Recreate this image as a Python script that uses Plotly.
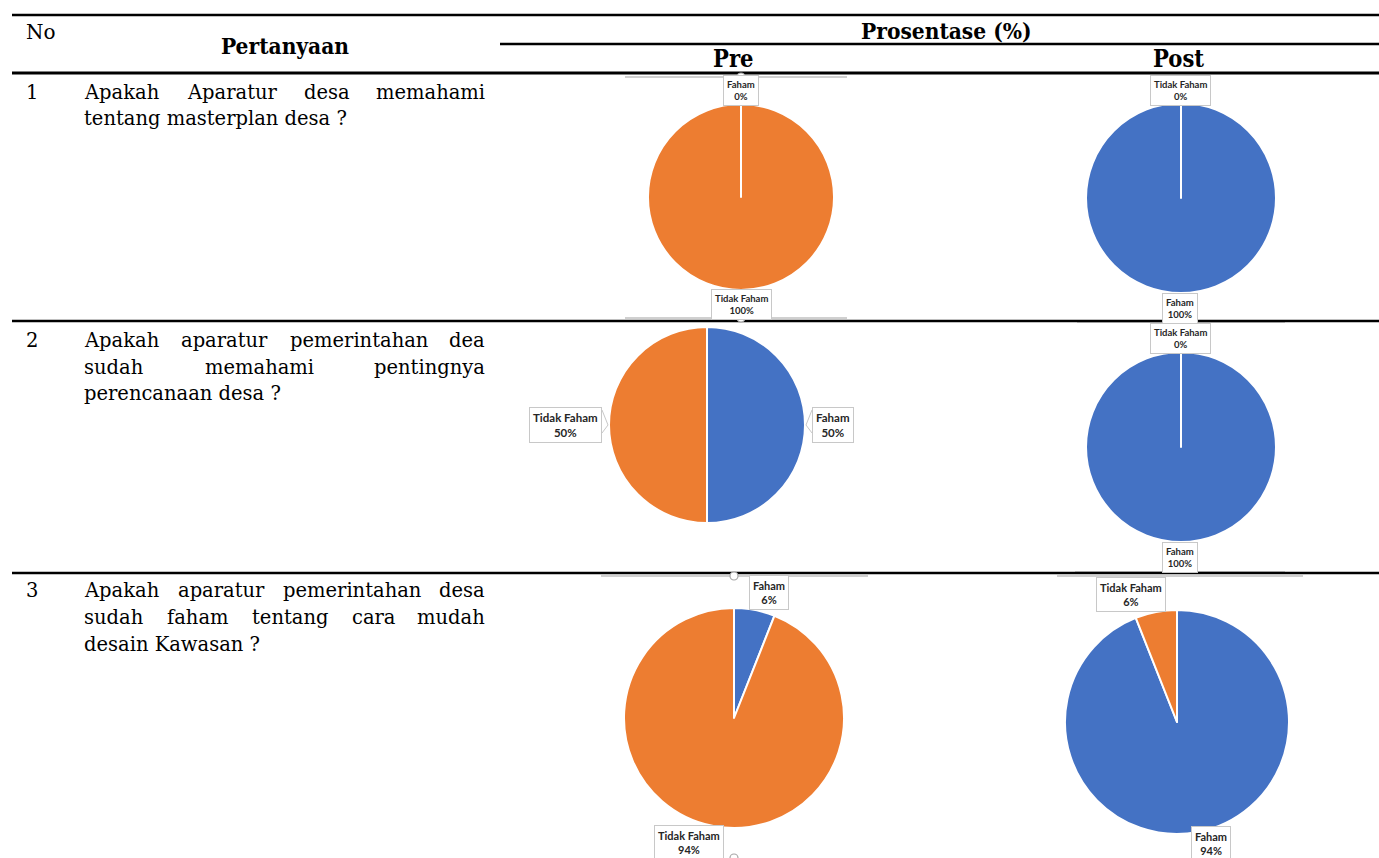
import plotly.graph_objects as go

W, H = 1379, 858

# Survey answers per question (percent of respondents)
categories = ["Faham", "Tidak Faham"]
pre_values = [[0, 100], [50, 50], [6, 94]]
post_values = [[100, 0], [100, 0], [94, 6]]
color_of = {"Faham": "#4472C4", "Tidak Faham": "#ED7D31"}

row_numbers = ["1", "2", "3"]
# Question text as printed, one string per line; all but the last line are justified
question_lines = [
    ["Apakah Aparatur desa memahami",
     "tentang masterplan desa ?"],
    ["Apakah aparatur pemerintahan dea",
     "sudah memahami pentingnya",
     "perencanaan desa ?"],
    ["Apakah aparatur pemerintahan desa",
     "sudah faham tentang cara mudah",
     "desain Kawasan ?"],
]
row_text_y = [[92, 118], [340, 367, 393], [590, 617, 644]]

# pie centre (px) and radius for each row, pre then post
pie_geom = [
    [(741, 197, 93), (1181, 198, 95)],
    [(707, 425, 98), (1181, 447, 95)],
    [(734, 718, 110), (1177, 722, 112)],
]
# data-label boxes: centre (px) for Faham / Tidak Faham, and font size
label_pos = [
    [[(741, 90), (741, 304)], [(1180, 308), (1180, 90)]],
    [[(833, 425), (565, 425)], [(1180, 557), (1180, 338)]],
    [[(769, 592), (689, 842)], [(1211, 843), (1131, 594)]],
]
label_size = [[9.5, 9.5], [11.5, 9.5], [11, 11]]

TEXT_LEFT, TEXT_RIGHT = 83, 486
BODY_SIZE = 19.5
serif = "DejaVu Serif"
head = "DejaVu Serif Condensed"

# approximate advance widths (em) of DejaVu Serif, used to justify lines
ADV = {
    " ": 0.318, "A": 0.722, "K": 0.730, "a": 0.596, "c": 0.560, "d": 0.640,
    "e": 0.592, "f": 0.370, "g": 0.640, "h": 0.644, "i": 0.320, "k": 0.598,
    "l": 0.320, "m": 0.948, "n": 0.644, "p": 0.640, "r": 0.478, "s": 0.513,
    "t": 0.402, "u": 0.644, "w": 0.856, "y": 0.565, "?": 0.536,
}


def text_width(s, size):
    return sum(ADV.get(ch, 0.6) for ch in s) * size


def px(x):
    return x / W


def py(y):
    return 1 - y / H


fig = go.Figure()

for r in range(3):
    for c, vals in enumerate([pre_values[r], post_values[r]]):
        cx, cy, rad = pie_geom[r][c]
        labels = list(categories)
        values = list(vals)
        # an empty leading slice is moved to the end so its white edge stays visible
        if values[0] == 0:
            labels = labels[1:] + labels[:1]
            values = values[1:] + values[:1]
        fig.add_trace(go.Pie(
            labels=labels,
            values=values,
            sort=False,
            direction="clockwise",
            rotation=0,
            marker=dict(colors=[color_of[l] for l in labels],
                        line=dict(color="white", width=2)),
            textinfo="none",
            hoverinfo="label+percent",
            showlegend=False,
            domain=dict(x=[px(cx - rad), px(cx + rad)],
                        y=[py(cy + rad), py(cy - rad)]),
        ))
        for k, name in enumerate(categories):
            lx, ly = label_pos[r][c][k]
            fig.add_annotation(
                x=px(lx), y=py(ly), xref="paper", yref="paper",
                xanchor="center", yanchor="middle",
                text=f"<b>{name}</b><br><b>{vals[k]}%</b>",
                showarrow=False, align="center",
                font=dict(family="Lato", size=label_size[r][c], color="#262626"),
                bgcolor="white", bordercolor="#C8C8C8", borderwidth=1, borderpad=3,
            )

shapes = []


def hline(y, x0, x1, color="black", width=2):
    shapes.append(dict(type="line", xref="paper", yref="paper",
                       x0=px(x0), x1=px(x1), y0=py(y), y1=py(y),
                       line=dict(color=color, width=width)))


# light chart-area edges of the embedded charts
for y, x0, x1 in [(77, 625, 847), (318, 625, 847), (322, 1077, 1285),
                  (572, 1075, 1285), (576, 601, 868), (576, 1057, 1303)]:
    hline(y, x0, x1, color="#C0C0C0", width=1.5)

# table rules
hline(15, 12, W, width=2.5)
hline(44, 500, W, width=2.5)
hline(73, 12, W, width=3)
hline(321, 12, W, width=2.5)
hline(573, 12, W, width=2.5)

# small selection handles on the embedded charts
for hx, hy in [(741, 77), (741, 318), (1180, 321), (734, 576), (734, 858)]:
    shapes.append(dict(type="circle", xref="paper", yref="paper",
                       x0=px(hx - 4), x1=px(hx + 4), y0=py(hy + 4), y1=py(hy - 4),
                       line=dict(color="#A6A6A6", width=1.2), fillcolor="white"))

fig.update_layout(shapes=shapes)


def callout(points):
    path = "M " + " L ".join(f"{px(x)},{py(y)}" for x, y in points)
    fig.add_shape(type="path", path=path, xref="paper", yref="paper",
                  line=dict(color="#C8C8C8", width=1), fillcolor="white")


# pointers of the side labels on the half/half chart
callout([(602, 410), (608, 425), (602, 433)])
callout([(812, 410), (806, 425), (812, 433)])


def text(x, y, s, size=BODY_SIZE, family=serif, anchor="left", bold=False):
    fig.add_annotation(x=px(x), y=py(y), xref="paper", yref="paper",
                       text=f"<b>{s}</b>" if bold else s, showarrow=False,
                       xanchor=anchor, yanchor="middle", borderpad=0,
                       font=dict(family=family, size=size, color="black"))


# header
text(25, 32, "No", size=20)
text(285, 46, "Pertanyaan", size=22.5, family=head, anchor="center", bold=True)
text(946, 31, "Prosentase (%)", size=22.5, family=head, anchor="center", bold=True)
text(733, 59, "Pre", size=23.5, family=head, anchor="center", bold=True)
text(1178, 59, "Post", size=23.5, family=head, anchor="center", bold=True)

# body rows: justified lines are laid out word by word with even gaps
for r in range(3):
    text(25, row_text_y[r][0], row_numbers[r])
    lines = question_lines[r]
    for li, line in enumerate(lines):
        y = row_text_y[r][li]
        if li == len(lines) - 1:
            text(TEXT_LEFT, y, line)
            continue
        words = line.split(" ")
        widths = [text_width(w, BODY_SIZE) for w in words]
        gap = (TEXT_RIGHT - TEXT_LEFT - sum(widths)) / (len(words) - 1)
        x = TEXT_LEFT
        for wi, word in enumerate(words):
            if wi == len(words) - 1:
                text(TEXT_RIGHT, y, word, anchor="right")
            else:
                text(x, y, word)
            x += widths[wi] + gap

fig.update_layout(
    width=W, height=H,
    margin=dict(l=0, r=0, t=0, b=0),
    paper_bgcolor="white", plot_bgcolor="white",
    showlegend=False,
)

fig.write_html("out.html")
